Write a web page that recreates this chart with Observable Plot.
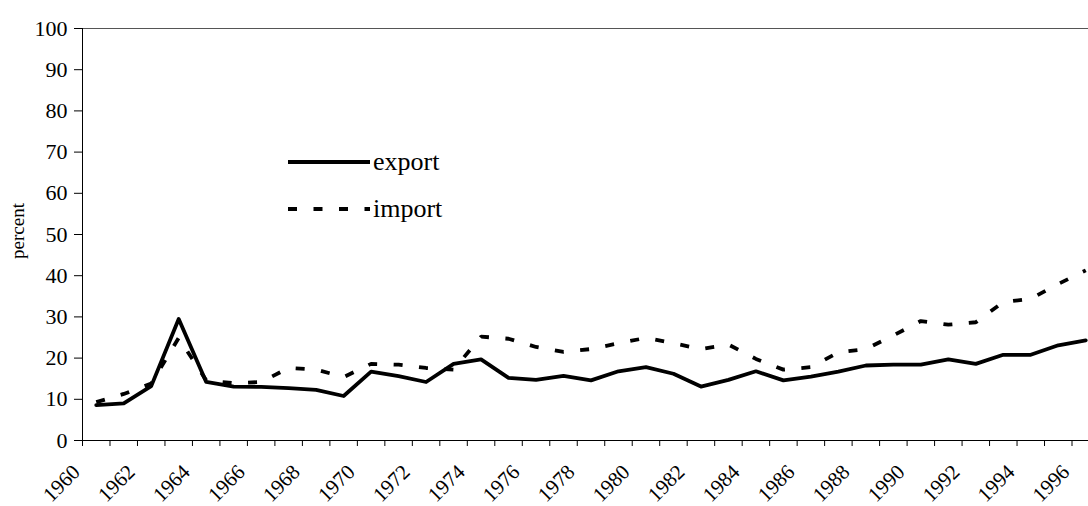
<!DOCTYPE html>
<html>
<head>
<meta charset="utf-8">
<script src="https://cdn.jsdelivr.net/npm/d3@7"></script>
<script src="https://cdn.jsdelivr.net/npm/@observablehq/plot@0.6"></script>
<style>
  html, body { margin: 0; padding: 0; background: #fff; }
  #chart { width: 1088px; height: 506px; overflow: hidden; }
  #chart svg text { font-family: "Liberation Serif", "Times New Roman", serif !important; }
</style>
</head>
<body>
<div id="chart"></div>
<script>
// ---- data ----
const years = d3.range(1960, 1997);
const exportPct = [8.6, 9.0, 13.2, 29.5, 14.2, 13.1, 13.0, 12.7, 12.3, 10.8,
  16.7, 15.6, 14.2, 18.6, 19.7, 15.2, 14.7, 15.7, 14.6, 16.8,
  17.8, 16.2, 13.1, 14.7, 16.8, 14.6, 15.5, 16.7, 18.2, 18.4,
  18.4, 19.7, 18.6, 20.8, 20.8, 23.1, 24.3];
const importPct = [9.3, 11.3, 13.8, 24.9, 14.6, 13.9, 14.2, 17.6, 17.2, 15.4,
  18.6, 18.4, 17.6, 17.2, 25.2, 24.7, 22.7, 21.5, 22.2, 23.6,
  24.9, 23.6, 22.2, 23.3, 19.8, 17.2, 17.8, 21.4, 22.2, 25.5,
  29.0, 28.1, 28.7, 33.6, 34.4, 38.0, 41.3];
const yTicks = [0, 10, 20, 30, 40, 50, 60, 70, 80, 90, 100];
const xLabelYears = d3.range(1960, 1997, 2);
const seriesNames = ["export", "import"];
const yLabel = "percent";

const rows = years.map((y, i) => ({year: y, exp: exportPct[i], imp: importPct[i]}));

const W = 1088, H = 506;
const DASH = "9 16.5";
const FONT = "Liberation Serif";

const chart = Plot.plot({
  width: W,
  height: H,
  marginLeft: 82,
  marginRight: -11,
  marginTop: 28,
  marginBottom: 66,
  style: {fontFamily: FONT, fontSize: "22px", color: "#000", background: "#fff", overflow: "visible"},
  x: {type: "linear", domain: [1960, 1997]},
  y: {domain: [0, 100]},
  marks: [
    Plot.ruleY([100], {stroke: "#555", strokeWidth: 1}),
    Plot.axisY({ticks: yTicks, tickSize: 8, tickPadding: 7, label: null, fontFamily: FONT, fontSize: 22}),
    Plot.axisX({ticks: years, tickSize: 6, tickFormat: () => "", label: null}),
    Plot.axisX({ticks: xLabelYears, tickSize: 0, tickRotate: -45, tickPadding: 28, tickFormat: d => String(d), label: null, dx: -6, fontFamily: FONT, fontSize: 21}),
    Plot.ruleX([1960], {stroke: "#000", strokeWidth: 1}),
    Plot.ruleY([0], {stroke: "#000", strokeWidth: 1}),
    Plot.line(rows, {x: d => d.year + 0.5, y: "imp", stroke: "#000", strokeWidth: 3.8, strokeDasharray: DASH, strokeLinecap: "butt", strokeLinejoin: "miter"}),
    Plot.line(rows, {x: d => d.year + 0.5, y: "exp", stroke: "#000", strokeWidth: 3.8, strokeLinejoin: "round"})
  ]
});

const svg = d3.select(chart);
// y label
svg.append("text")
  .attr("transform", `translate(18,231) rotate(-90)`)
  .attr("text-anchor", "middle")
  .attr("dy", "0.32em")
  .style("font-size", "19px")
  .text(yLabel);

// legend
const lg = svg.append("g");
const legendRows = [{name: seriesNames[0], y: 162, dash: null}, {name: seriesNames[1], y: 209, dash: DASH}];
legendRows.forEach(r => {
  lg.append("line")
    .attr("x1", 288).attr("x2", 370)
    .attr("y1", r.y).attr("y2", r.y)
    .attr("stroke", "#000").attr("stroke-width", 3.8)
    .attr("stroke-dasharray", r.dash);
  lg.append("text")
    .attr("x", 373).attr("y", r.y)
    .attr("dy", "0.32em")
    .attr("text-anchor", "start")
    .style("font-size", "26px")
    .text(r.name);
});

svg.selectAll("text").style("font-family", FONT);
chart.style.maxWidth = "none";
document.getElementById("chart").appendChild(chart);
</script>
</body>
</html>
